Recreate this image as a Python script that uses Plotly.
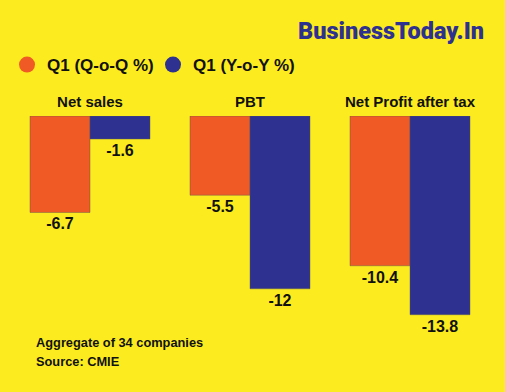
import plotly.graph_objects as go

categories = ["Net sales", "PBT", "Net Profit after tax"]
qoq_values = [-6.7, -5.5, -10.4]
yoy_values = [-1.6, -12, -13.8]
series_names = ["Q1 (Q-o-Q %)", "Q1 (Y-o-Y %)"]

ORANGE = "#F05A24"
BLUE = "#2E3190"
YELLOW = "#FCEC1F"
BAR_LINE = dict(color="rgba(90,90,90,0.55)", width=0.8)
LABEL_FONT = dict(family="Liberation Sans, Arial, sans-serif", size=16, color="#111111", weight="bold")

fig = go.Figure()
for name, vals, col in [(series_names[0], qoq_values, ORANGE), (series_names[1], yoy_values, BLUE)]:
    fig.add_trace(go.Bar(
        x=categories, y=vals, name=name,
        marker=dict(color=col, line=BAR_LINE),
        text=[f"{v:g}" for v in vals], texttemplate="%{text}",
        textposition="outside", textfont=LABEL_FONT,
        cliponaxis=False, showlegend=False,
    ))
    # legend entry with circular symbol
    fig.add_trace(go.Scatter(
        x=[None], y=[None], mode="markers", name=name,
        marker=dict(color=col, size=16, symbol="circle"),
        showlegend=True,
    ))

fig.update_layout(
    width=505, height=392,
    margin=dict(l=10, r=15, t=115, b=60),
    paper_bgcolor=YELLOW, plot_bgcolor=YELLOW,
    barmode="group", bargap=0.25, bargroupgap=0,
    font=dict(family="Liberation Sans, Arial, sans-serif", color="#111111"),
    legend=dict(
        orientation="h", xref="container", yref="container",
        x=7 / 505, y=1 - 65 / 392, xanchor="left", yanchor="middle",
        font=dict(size=17, color="#111111", weight="bold"),
        bgcolor="rgba(0,0,0,0)", itemsizing="trace", tracegroupgap=0,
        entrywidth=101, entrywidthmode="pixels",
    ),
    xaxis=dict(
        side="top", showgrid=False, zeroline=False, showline=False, ticks="",
        tickfont=dict(size=15, color="#111111", weight="bold"),
        ticklabelstandoff=5,
        range=[-0.5, 2.5],
    ),
    yaxis=dict(visible=False, range=[-15, 0], showgrid=False, zeroline=False),
    showlegend=True,
)

fig.add_annotation(
    text="BusinessToday.In", xref="paper", yref="paper",
    x=476 / 480, y=(332 - 30) / 217, xanchor="right", yanchor="middle",
    showarrow=False,
    font=dict(family="Roboto, Liberation Sans, sans-serif", size=23.5, color="#2E3190", weight=900),
)
fig.add_annotation(
    text="Aggregate of 34 companies", xref="paper", yref="paper",
    x=24 / 480, y=(332 - 343) / 217, xanchor="left", yanchor="middle",
    showarrow=False, font=dict(size=12.8, color="#111111", weight="bold"),
)
fig.add_annotation(
    text="Source: CMIE", xref="paper", yref="paper",
    x=24 / 480, y=(332 - 362) / 217, xanchor="left", yanchor="middle",
    showarrow=False, font=dict(size=12.8, color="#111111", weight="bold"),
)

fig.write_html(
    "out.html",
    config={"displayModeBar": False},
    post_script="document.body.style.margin='0px';document.body.style.overflow='hidden';",
)
